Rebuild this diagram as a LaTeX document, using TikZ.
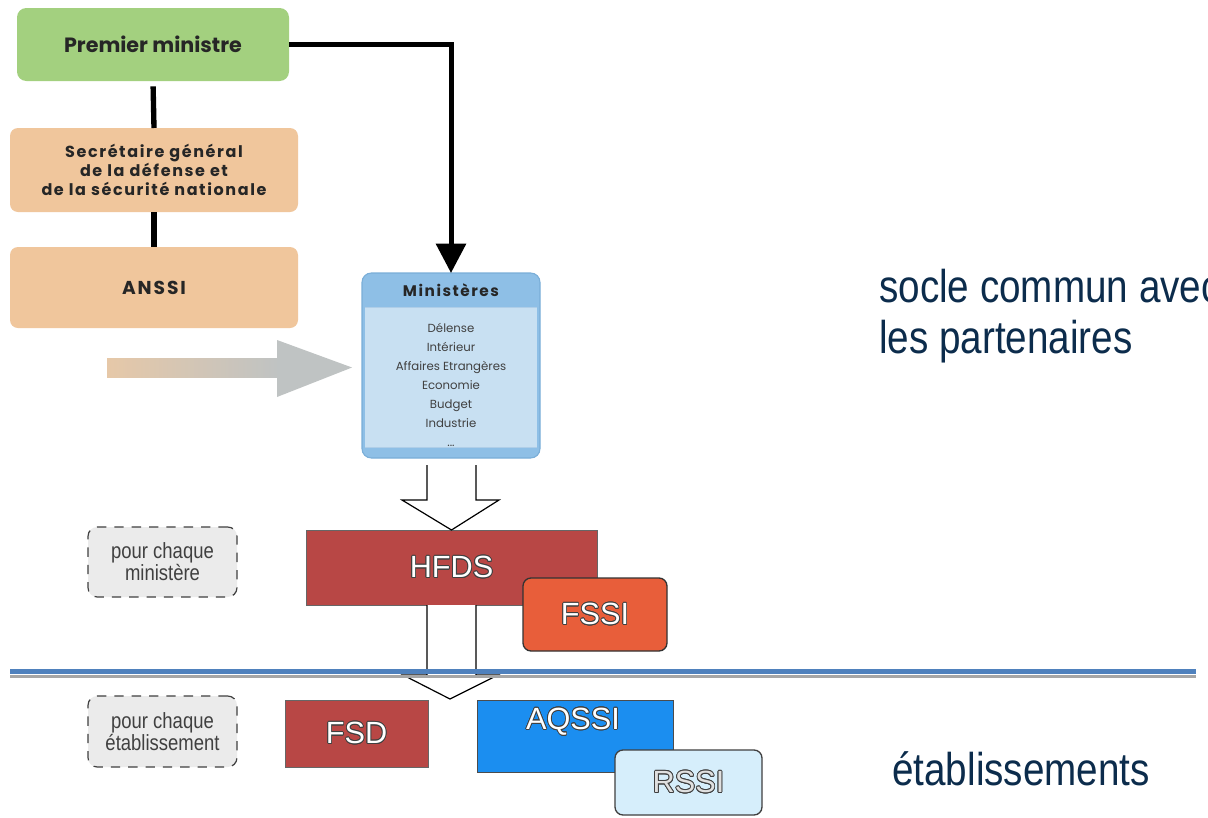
\documentclass[tikz,border=0pt]{standalone}
\usepackage{fontspec}
\setmainfont{Liberation Sans}
\newfontfamily\fut{Poppins}
\newfontfamily\futsp{Poppins}[LetterSpace=10]
\newfontfamily\narrowfont{Liberation Sans}[FakeStretch=0.84]
\usepackage{contour}
\contourlength{0.6pt}
\usetikzlibrary{arrows.meta,calc}
\definecolor{pmgreen}{HTML}{A3D07F}
\definecolor{peach}{HTML}{F0C69C}
\definecolor{minhead}{HTML}{8EBFE6}
\definecolor{minbody}{HTML}{C8E0F2}
\definecolor{minborder}{HTML}{7AAED8}
\definecolor{hfdsred}{HTML}{B84745}
\definecolor{fssiorange}{HTML}{E85E3A}
\definecolor{aqssiblue}{HTML}{1B8EF0}
\definecolor{rssilight}{HTML}{D6EEFB}
\definecolor{dashfill}{HTML}{EBEBEB}
\definecolor{navy}{HTML}{0C2C4C}
\definecolor{blueline}{HTML}{4F81BD}
\definecolor{tanarrow}{HTML}{E6C8A8}
\definecolor{grayarrow}{HTML}{BFC3C3}
\definecolor{titletext}{HTML}{262626}
\newcommand{\outl}[1]{\contour{black!75}{\textcolor{white}{#1}}}
\tikzset{
  box/.style={inner sep=0pt, outer sep=0pt},
  pmbox/.style={box, fill=pmgreen, rounded corners=7pt, font=\fut\bfseries\fontsize{15.5}{18}\selectfont, text=titletext},
  peachbox/.style={box, fill=peach, rounded corners=6pt, font=\futsp\bfseries\fontsize{12}{14.25}\selectfont, text=titletext, align=center},
  minbox/.style={box, fill=minhead, draw=minborder, line width=0.8pt, rounded corners=7pt},
  flatbox/.style={box, draw=black!60, line width=0.6pt, font=\fontsize{23}{26}\selectfont},
  roundbox/.style={box, draw=black!80, line width=1pt, rounded corners=6pt, font=\fontsize{23}{26}\selectfont},
  dashbox/.style={box, fill=dashfill, draw=black!75, line width=0.9pt, dash pattern=on 7pt off 6pt, rounded corners=7pt, font=\narrowfont\fontsize{16.5}{13}\selectfont, text=black!75, align=center},
  conn/.style={line width=4pt, black},
  hollow/.style={draw=black, line width=0.9pt, fill=white, line join=miter},
  sidetext/.style={font=\narrowfont\fontsize{34.5}{38}\selectfont, text=navy, align=left, inner sep=0pt}
}
\begin{document}
\begin{tikzpicture}[x=0.75pt, y=-0.75pt]
\clip (0,0) rectangle (1208,818);
\fill[white] (0,0) rectangle (1208,818);

% top hierarchy
\node[pmbox, minimum width=204pt, minimum height=54.75pt] (pm) at (153,44.5) {Premier ministre};
\node[peachbox, minimum width=216pt, minimum height=63pt] (sg) at (154,170) {Secrétaire général\\de la défense et\\de la sécurité nationale};
\node[peachbox, font=\futsp\bfseries\fontsize{14}{16}\selectfont, minimum width=216pt, minimum height=60.75pt] (anssi) at (154,287.5) {ANSSI};
\draw[conn, shorten <=4pt] (pm.south) -- (sg.north);
\draw[conn] (sg.south) -- (anssi.north);

% ministeres
\node[minbox, minimum width=133.5pt, minimum height=138.75pt] (min) at (451,365.5) {};
\fill[minbody] (365,307) rectangle (537,447);
\draw[minborder!60, line width=0.5pt] (365,307) -- (537,307) (365,447) -- (537,447);
\node[font=\futsp\bfseries\fontsize{11.5}{13}\selectfont, text=titletext] (minh) at ($(min.north)+(0,17)$) {Ministères};
\node[font=\fut\fontsize{8.8}{14.25}\selectfont, text=black!75, align=center] (minl) at ($(min.north)+(0,112)$)
  {Délense\\Intérieur\\Affaires Etrangères\\Economie\\Budget\\Industrie\\...};

\draw[conn, line width=3.75pt, -{Triangle[width=22pt,length=22pt]}] (pm.east) -| (min.north);

% gray arrow towards ministeres
\shade[left color=tanarrow, right color=grayarrow] (107,358) rectangle (280,377);
\fill[grayarrow] (277,340) -- ($(min.west)+(-10,2)$) -- (277,397) -- cycle;

% HFDS / FSSI
\node[flatbox, fill=hfdsred, minimum width=218.25pt, minimum height=56.25pt] (hfds) at (451.5,567.5) {\outl{HFDS}};
\node[roundbox, fill=fssiorange, minimum width=108pt, minimum height=54.75pt] (fssi) at (595,614.5) {\outl{FSSI}};

% hollow arrows
\draw[hollow] (427,465) -- (427,500) -- (402,500) -- (hfds.north) -- (499,500) -- (476,500) -- (476,465);
\draw[hollow] (427,605) -- (427,675) -- (403,675) -- (450,699) -- (498,675) -- (476,675) -- (476,605);

% separator
\draw[black!35, line width=2.2pt] (10,676.5) -- (1196,676.5);
\draw[blueline, line width=3.75pt] (10,671.5) -- (1196,671.5);

% lower boxes
\node[flatbox, fill=hfdsred, minimum width=107.25pt, minimum height=50.25pt] (fsd) at (356.5,733.5) {\outl{FSD}};
\node[flatbox, fill=aqssiblue, draw=black!70, minimum width=147pt, minimum height=54pt] (aqssi) at (575,736) {};
\node[font=\fontsize{23}{26}\selectfont] (aqssit) at ($(aqssi.north)+(-2,22)$) {\outl{AQSSI}};
\node[roundbox, fill=rssilight, draw=black!75, minimum width=110.25pt, minimum height=48.75pt] (rssi) at (688.5,782.5) {\contour{black!75}{\textcolor{black!12}{RSSI}}};

% dashed labels
\node[dashbox, minimum width=111.75pt, minimum height=52.5pt] (d1) at (162.5,562) {pour chaque\\ministère};
\node[dashbox, minimum width=111.75pt, minimum height=53.25pt] (d2) at (162.5,731.5) {pour chaque\\établissement};

% side texts
\node[sidetext, anchor=north west] (t1) at (879,269) {socle commun avec\\les partenaires};
\node[sidetext, anchor=north west] (t2) at (892,751) {établissements};
\end{tikzpicture}
\end{document}
